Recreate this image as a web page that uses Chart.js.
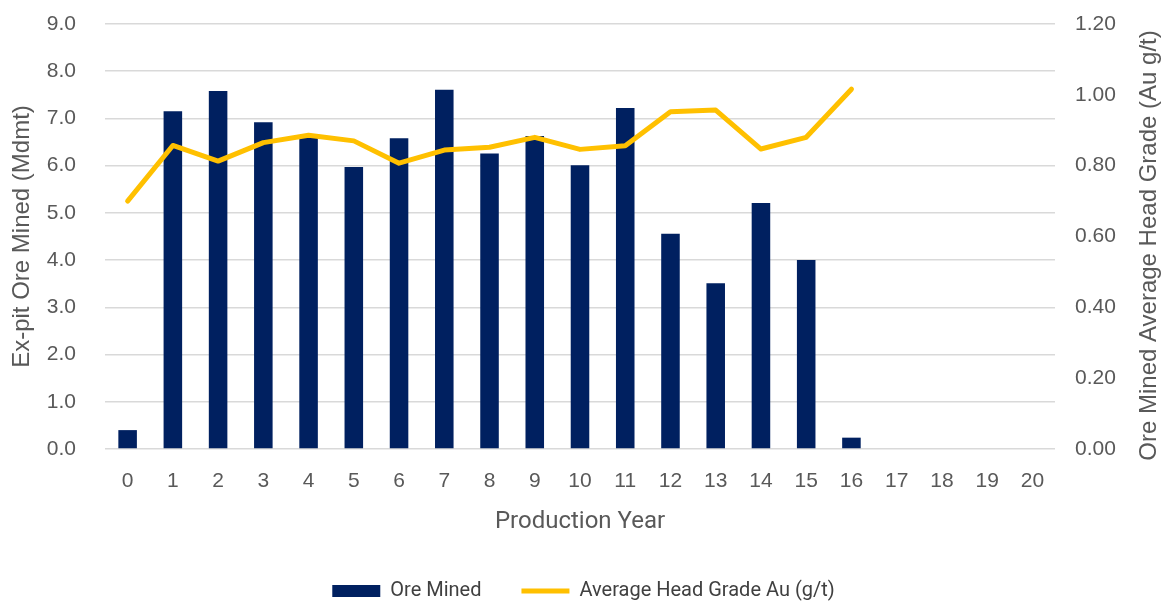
<!DOCTYPE html>
<html>
<head>
<meta charset="utf-8">
<script src="https://cdn.jsdelivr.net/npm/chart.js@4/dist/chart.umd.min.js"></script>
<style>
  html, body { margin: 0; padding: 0; background: #fff; overflow: hidden; }
  #wrap { width: 1167px; height: 604px; }
</style>
</head>
<body>
<div id="wrap"><canvas id="mineChart"></canvas></div>
<script>
// Años de producción
const years = ['0','1','2','3','4','5','6','7','8','9','10','11','12','13','14','15','16','17','18','19','20'];
// Mineral extraído (Mdmt)
const oreMined = [0.4, 7.15, 7.58, 6.92, 6.62, 5.97, 6.58, 7.61, 6.26, 6.63, 6.01, 7.22, 4.56, 3.51, 5.21, 4.0, 0.24, null, null, null, null];
// Ley promedio Au (g/t)
const headGrade = [0.70, 0.857, 0.813, 0.865, 0.886, 0.870, 0.807, 0.844, 0.852, 0.880, 0.846, 0.856, 0.952, 0.957, 0.847, 0.880, 1.016, null, null, null, null];

const grey = '#595959';
const tickFont = { family: 'Liberation Sans', size: 21 };
const titleFont = { family: 'Liberation Sans', size: 24 };
const rightTitle = 'Ore Mined Average Head Grade (Au g/t)';

// Título del eje derecho leído de abajo hacia arriba
const rightTitlePlugin = {
    id: 'rightTitle',
    afterDraw(chart) {
        const { ctx, chartArea } = chart;
        ctx.save();
        ctx.translate(1149, (chartArea.top + chartArea.bottom) / 2 + 9);
        ctx.rotate(-Math.PI / 2);
        ctx.font = '24px "Liberation Sans"';
        ctx.fillStyle = grey;
        ctx.textAlign = 'center';
        ctx.textBaseline = 'middle';
        ctx.fillText(rightTitle, 0, 0);
        ctx.restore();
    }
};

const mineChart = new Chart(document.getElementById('mineChart'), {
    type: 'bar',
    data: {
        labels: years,
        datasets: [{
            type: 'bar',
            label: 'Ore Mined',
            data: oreMined,
            backgroundColor: '#002060',
            borderWidth: 0,
            categoryPercentage: 1,
            barPercentage: 0.41,
            yAxisID: 'y',
            order: 1
        }, {
            type: 'line',
            label: 'Average Head Grade Au (g/t)',
            data: headGrade,
            borderColor: '#FFC000',
            backgroundColor: '#FFC000',
            borderWidth: 5,
            pointRadius: 0,
            borderCapStyle: 'round',
            borderJoinStyle: 'round',
            tension: 0,
            yAxisID: 'y1',
            order: 0
        }]
    },
    plugins: [rightTitlePlugin],
    options: {
        responsive: true,
        maintainAspectRatio: false,
        animation: false,
        layout: { padding: { left: 0, right: 0, top: 24, bottom: -7 } },
        plugins: {
            tooltip: { enabled: false },
            legend: {
                position: 'bottom',
                labels: {
                    sort: (a, b) => a.datasetIndex - b.datasetIndex,
                    usePointStyle: true,
                    pointStyleWidth: 48,
                    boxHeight: 12,
                    padding: 40,
                    color: '#404040',
                    font: { family: 'Roboto', size: 20 },
                    generateLabels: (chart) => {
                        const base = Chart.defaults.plugins.legend.labels.generateLabels(chart);
                        return base.map(l => {
                            l.pointStyle = l.datasetIndex === 0 ? 'rect' : 'line';
                            if (l.datasetIndex === 0) l.lineWidth = 0;
                            return l;
                        });
                    }
                }
            }
        },
        scales: {
            x: {
                grid: { display: false, drawTicks: false },
                border: { display: false },
                ticks: { color: grey, font: tickFont, padding: 20 },
                title: {
                    display: true,
                    text: 'Production Year',
                    color: grey,
                    font: { family: 'Roboto', size: 24 },
                    padding: { top: 0, bottom: 5 }
                },
                afterFit: s => { s.height = 92; s.paddingLeft = 0; s.paddingRight = 0; }
            },
            y: {
                position: 'left',
                min: 0,
                max: 9,
                ticks: {
                    stepSize: 1,
                    color: grey,
                    font: tickFont,
                    padding: 29,
                    callback: v => v.toFixed(1)
                },
                grid: { color: '#d9d9d9', lineWidth: 1.5, drawTicks: false },
                border: { display: false },
                title: {
                    display: true,
                    text: 'Ex-pit Ore Mined (Mdmt)',
                    color: grey,
                    font: titleFont,
                    padding: { top: 8, bottom: 0 }
                },
                afterFit: s => { s.width = 105; s.paddingTop = 0; s.paddingBottom = 0; }
            },
            y1: {
                position: 'right',
                min: 0,
                max: 1.2,
                ticks: {
                    stepSize: 0.2,
                    color: grey,
                    font: tickFont,
                    padding: 20,
                    callback: v => v.toFixed(2)
                },
                grid: { display: false, drawTicks: false },
                border: { display: false },
                title: { display: false },
                afterFit: s => { s.width = 112; s.paddingTop = 0; s.paddingBottom = 0; }
            }
        }
    }
});
</script>
</body>
</html>
